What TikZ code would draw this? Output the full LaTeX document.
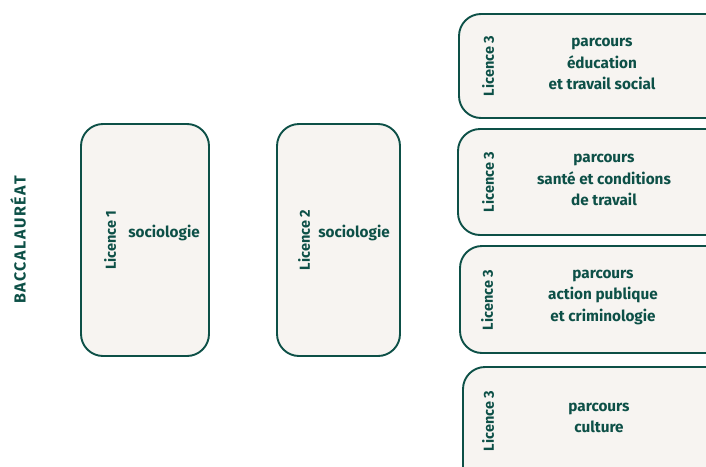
\documentclass[tikz,border=0pt]{standalone}
\usepackage{fontspec}
\setmainfont{Fira Sans}
\definecolor{teal}{HTML}{0D5047}
\definecolor{cream}{HTML}{F7F4F1}
\begin{document}
\begin{tikzpicture}[x=1pt,y=-1pt,
  card/.style={draw=teal,line width=1.9pt,fill=cream,rounded corners=22pt},
  vlabel/.style={rotate=90,text=teal,font=\fontsize{14.5}{16}\selectfont\bfseries,inner sep=0pt},
  maintext/.style={text=teal,font=\fontsize{15.3}{21.5}\selectfont\bfseries,align=center,inner sep=0pt}]
\useasboundingbox (0,0) rectangle (706,466);
\clip (0,0) rectangle (706,466);
% boxes
\draw[card] (81,124) rectangle (209,356);
\draw[card] (277,124) rectangle (400,356);
\draw[card] (459,14) rectangle (745,118);
\draw[card] (458,129) rectangle (745,235);
\draw[card] (460,246) rectangle (745,353);
\draw[card] (463,367) rectangle (745,490);
% labels
\node[vlabel,font=\fontsize{16}{18}\selectfont\bfseries\addfontfeatures{LetterSpace=10}] (bac) at (18,240) {BACCALAURÉAT};
\node[vlabel] (l1) at (110,240) {Licence 1};
\node[maintext] (s1) at (164,233) {sociologie};
\node[vlabel] (l2) at (304,240) {Licence 2};
\node[maintext] (s2) at (354,233) {sociologie};
\node[vlabel] (l3a) at (488,66) {Licence 3};
\node[maintext] (t3a) at (602,64) {parcours\\éducation\\et travail social};
\node[vlabel] (l3b) at (488,182) {Licence 3};
\node[maintext] (t3b) at (604,180) {parcours\\santé et conditions\\de travail};
\node[vlabel] (l3c) at (487,300) {Licence 3};
\node[maintext] (t3c) at (603,297) {parcours\\action publique\\et criminologie};
\node[vlabel] (l3d) at (488,421) {Licence 3};
\node[maintext] (t3d) at (599,418) {parcours\\culture};
\end{tikzpicture}
\end{document}
